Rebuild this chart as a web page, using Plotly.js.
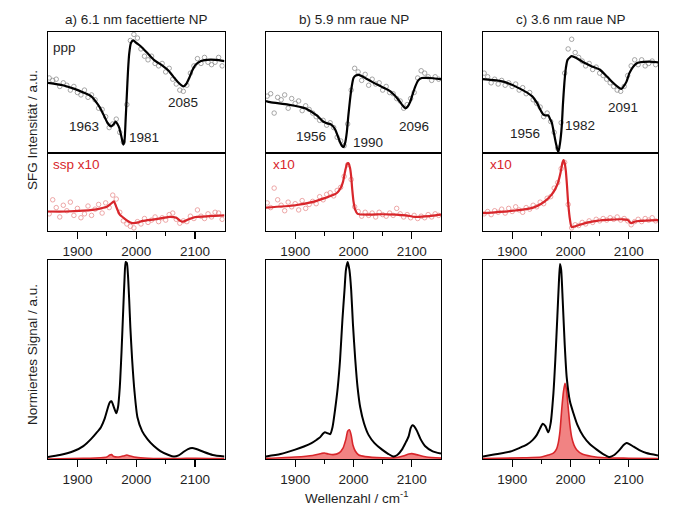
<!DOCTYPE html>
<html>
<head>
<meta charset="utf-8">
<script src="https://cdn.plot.ly/plotly-3.0.1.min.js"></script>
<style>html,body{margin:0;padding:0;background:#fff;}#chart{width:676px;height:524px;}</style>
</head>
<body>
<div id="chart"></div>
<script>
// ---------- DATA ----------
const panelTitles = ["a) 6.1 nm facettierte NP", "b) 5.9 nm raue NP", "c) 3.6 nm raue NP"];
const tickVals = [1900, 2000, 2100];
const tickText = ["1900", "2000", "2100"];
const minorTickVals = [1950, 2050];

// measured-point wavenumbers (shared by all SFG panels)
const ptsX = [1852,1858,1864,1870,1876,1882,1888,1894,1900,1906,1912,1918,1924,1930,1936,1942,1948,1954,1960,1966,1972,1978,1984,1990,1996,2002,2008,2014,2020,2026,2032,2038,2044,2050,2056,2062,2068,2074,2080,2086,2092,2098,2104,2110,2116,2122,2128,2134,2140,2146];

// panel a — ppp
const aPppPts = [0.62,0.60,0.61,0.55,0.58,0.56,0.52,0.55,0.50,0.48,0.52,0.46,0.48,0.44,0.37,0.36,0.30,0.21,0.24,0.28,0.17,0.09,0.40,0.93,0.98,0.95,0.86,0.80,0.77,0.80,0.74,0.72,0.74,0.67,0.70,0.61,0.57,0.52,0.51,0.56,0.66,0.72,0.78,0.74,0.79,0.75,0.73,0.75,0.79,0.72];
const aPppFitX = [1850,1875,1895,1910,1923,1935,1940,1946,1951,1957,1962,1965,1968,1971,1975,1978,1980,1982,1984,1986,1988,1991,1995,2000,2008,2020,2030,2045,2055,2065,2072,2080,2085,2090,2095,2101,2110,2120,2135,2150];
const aPppFitY = [0.58,0.56,0.53,0.50,0.47,0.40,0.36,0.30,0.25,0.22,0.24,0.26,0.24,0.21,0.13,0.07,0.10,0.28,0.48,0.68,0.82,0.91,0.93,0.91,0.88,0.82,0.77,0.72,0.68,0.62,0.58,0.55,0.57,0.62,0.68,0.73,0.76,0.77,0.77,0.76];
// panel a — ssp x10
const aSspPts = [0.22,0.40,0.30,0.18,0.33,0.26,0.37,0.20,0.29,0.17,0.22,0.32,0.20,0.28,0.34,0.23,0.36,0.30,0.46,0.41,0.24,0.13,0.09,0.06,0.04,0.12,0.09,0.16,0.11,0.14,0.18,0.12,0.17,0.14,0.21,0.23,0.15,0.10,0.13,0.12,0.19,0.16,0.27,0.19,0.16,0.22,0.18,0.24,0.23,0.15];
const aSspFitX = [1850,1880,1910,1925,1940,1950,1957,1962,1966,1972,1980,1990,1996,2003,2011,2031,2057,2068,2075,2079,2089,2101,2125,2150];
const aSspFitY = [0.25,0.25,0.26,0.27,0.29,0.31,0.35,0.38,0.31,0.21,0.16,0.11,0.10,0.11,0.13,0.15,0.18,0.17,0.13,0.12,0.15,0.18,0.19,0.20];
// panel a — normalised spectra
const aPppNormX = [1850,1870,1894,1910,1923,1932,1940,1946,1951,1955,1958,1962,1966,1969,1972,1975,1978,1980,1982,1984,1986,1988,1990,1993,1997,2002,2010,2019,2030,2041,2055,2064,2072,2080,2088,2095,2102,2115,2130,2150];
const aPppNormY = [0.01,0.02,0.04,0.065,0.10,0.13,0.16,0.20,0.25,0.285,0.29,0.26,0.23,0.26,0.36,0.54,0.76,0.90,0.99,0.985,0.92,0.80,0.66,0.50,0.34,0.21,0.14,0.10,0.065,0.04,0.02,0.012,0.018,0.035,0.05,0.055,0.05,0.035,0.02,0.012];
const aSspNormX = [1850,1910,1940,1950,1955,1958,1962,1970,1978,1984,1990,2000,2020,2070,2100,2150];
const aSspNormY = [0,0.003,0.006,0.01,0.02,0.022,0.012,0.01,0.015,0.02,0.015,0.008,0.004,0.002,0.004,0.002];

// panel b — ppp
const bPppPts = [0.47,0.49,0.33,0.46,0.44,0.48,0.37,0.45,0.41,0.43,0.35,0.39,0.36,0.33,0.30,0.27,0.27,0.23,0.25,0.21,0.13,0.10,0.06,0.24,0.52,0.70,0.67,0.60,0.65,0.56,0.61,0.57,0.58,0.52,0.55,0.50,0.49,0.45,0.43,0.37,0.40,0.45,0.50,0.62,0.68,0.66,0.63,0.60,0.63,0.61];
const bPppFitX = [1850,1857,1888,1917,1937,1948,1955,1960,1965,1969,1973,1977,1980,1983,1986,1988.5,1991,1994,1997,2000,2004,2009,2020,2031,2045,2060,2070,2077,2083,2089,2093,2097,2101,2106,2111,2117,2130,2150];
const bPppFitY = [0.43,0.42,0.40,0.37,0.31,0.26,0.245,0.24,0.22,0.19,0.14,0.09,0.06,0.05,0.09,0.17,0.30,0.44,0.55,0.62,0.64,0.645,0.62,0.59,0.555,0.52,0.48,0.44,0.40,0.37,0.385,0.42,0.48,0.55,0.60,0.62,0.62,0.61];
// panel b — ssp x10
const bSspPts = [0.36,0.30,0.55,0.40,0.33,0.26,0.37,0.31,0.35,0.27,0.39,0.29,0.34,0.38,0.35,0.44,0.40,0.47,0.49,0.45,0.52,0.56,0.70,0.85,0.66,0.31,0.25,0.19,0.24,0.20,0.23,0.18,0.24,0.21,0.19,0.23,0.20,0.29,0.22,0.18,0.21,0.17,0.20,0.16,0.19,0.17,0.21,0.18,0.22,0.20];
const bSspFitX = [1850,1900,1934,1954,1965,1972,1978,1982,1986,1989,1991,1994,1996,1998,2000,2003,2007,2026,2050,2072,2090,2106,2130,2150];
const bSspFitY = [0.30,0.33,0.38,0.43,0.46,0.49,0.55,0.63,0.78,0.86,0.87,0.81,0.70,0.52,0.38,0.27,0.22,0.21,0.215,0.21,0.20,0.18,0.19,0.21];
// panel b — normalised spectra
const bPppNormX = [1850,1875,1900,1915,1928,1937,1943,1948,1951,1955,1960,1964,1968.5,1973,1977,1981,1984.6,1987,1990,1993,1996,1999,2003,2007,2011.5,2018,2026,2036,2049,2060,2068,2075,2083,2089,2094.5,2098,2101,2104,2109,2115,2123,2135,2150];
const bPppNormY = [0.013,0.025,0.047,0.063,0.08,0.097,0.11,0.128,0.134,0.13,0.125,0.16,0.25,0.36,0.50,0.70,0.85,0.95,0.99,0.95,0.85,0.68,0.50,0.36,0.26,0.18,0.12,0.08,0.047,0.025,0.013,0.02,0.047,0.08,0.114,0.155,0.17,0.165,0.14,0.10,0.064,0.04,0.027];
const bSspNormX = [1850,1900,1930,1945,1950,1957,1965,1975,1982,1987,1990,1993,1996,1999,2003,2009,2020,2050,2070,2085,2095,2100,2108,2125,2150];
const bSspNormY = [0.003,0.01,0.018,0.028,0.03,0.025,0.022,0.03,0.055,0.10,0.14,0.147,0.12,0.07,0.04,0.02,0.012,0.006,0.006,0.015,0.025,0.027,0.022,0.01,0.005];

// panel c — ppp
const cPppPts = [0.66,0.63,0.58,0.61,0.57,0.60,0.56,0.58,0.55,0.57,0.52,0.54,0.49,0.50,0.44,0.41,0.38,0.30,0.33,0.26,0.17,0.04,0.25,0.66,0.86,0.94,0.83,0.79,0.76,0.72,0.74,0.69,0.71,0.66,0.64,0.61,0.58,0.55,0.52,0.51,0.55,0.64,0.72,0.77,0.73,0.77,0.72,0.74,0.76,0.73];
const cPppFitX = [1850,1885,1914,1934,1943,1948,1953,1957,1962,1965,1968,1971,1975,1979,1982,1985,1987,1989.5,1992,1995,2002,2010,2022,2035,2050,2063,2073,2080,2087,2091,2096,2101,2107,2113,2119,2135,2150];
const cPppFitY = [0.61,0.59,0.53,0.47,0.41,0.36,0.32,0.31,0.31,0.28,0.25,0.18,0.08,0.005,0.08,0.22,0.40,0.58,0.70,0.77,0.80,0.785,0.75,0.72,0.69,0.63,0.58,0.55,0.53,0.55,0.59,0.66,0.71,0.74,0.75,0.755,0.75];
// panel c — ssp x10
const cSspPts = [0.22,0.25,0.21,0.26,0.24,0.28,0.23,0.29,0.25,0.31,0.27,0.24,0.30,0.28,0.33,0.31,0.37,0.35,0.42,0.44,0.55,0.62,0.80,0.88,0.34,0.04,0.08,0.07,0.11,0.09,0.13,0.11,0.15,0.13,0.16,0.14,0.17,0.15,0.18,0.14,0.16,0.13,0.08,0.12,0.15,0.12,0.16,0.14,0.17,0.13];
const cSspFitX = [1850,1902,1936,1950,1959,1967,1974,1979,1983,1986,1988,1990,1992,1994,1996,1999,2002,2008,2016,2030,2045,2070,2090,2098,2104,2110,2119,2150];
const cSspFitY = [0.23,0.26,0.30,0.35,0.40,0.46,0.54,0.63,0.75,0.87,0.91,0.87,0.77,0.58,0.36,0.15,0.05,0.06,0.08,0.11,0.13,0.145,0.15,0.14,0.10,0.12,0.13,0.14];
// panel c — normalised spectra
const cPppNormX = [1850,1875,1897,1912,1925,1935,1942,1948,1952.5,1957,1962,1966,1970.7,1974,1977.5,1980,1982,1984,1986.6,1990,1993.5,1999,2005,2012,2022,2033,2045,2056,2067,2075,2084.5,2091,2096,2101,2107,2118,2130,2150];
const cPppNormY = [0.013,0.025,0.038,0.055,0.072,0.095,0.12,0.155,0.177,0.165,0.134,0.18,0.33,0.50,0.72,0.88,0.98,0.95,0.80,0.58,0.41,0.29,0.23,0.17,0.114,0.075,0.047,0.025,0.01,0.02,0.047,0.07,0.08,0.075,0.064,0.045,0.03,0.018];
const cSspNormX = [1850,1920,1950,1962,1970.7,1976,1979,1982,1985,1988,1990.6,1993,1996,1999,2002,2006,2010.5,2020,2035,2060,2100,2150];
const cSspNormY = [0.002,0.006,0.01,0.02,0.03,0.05,0.08,0.14,0.25,0.34,0.38,0.35,0.26,0.17,0.11,0.07,0.047,0.025,0.014,0.006,0.004,0.002];

// label texts
const peakLabels = [
  [{t:"1963",x:1912,y:0.22},{t:"1981",x:2014,y:0.13},{t:"2085",x:2080,y:0.42}],
  [{t:"1956",x:1927,y:0.14},{t:"1990",x:2024,y:0.09},{t:"2096",x:2103,y:0.22}],
  [{t:"1956",x:1922,y:0.16},{t:"1982",x:2017,y:0.23},{t:"2091",x:2090,y:0.38}]
];
const sspLabels = ["ssp x10", "x10", "x10"];

// ---------- STYLE / LAYOUT ----------
const RED = "#d8262b";
const TXT = "#1e1e1e";
const FONT = "Liberation Sans, Arial, sans-serif";
const W = 676, H = 524;
const xDom = [[48, 224.5], [266, 441], [483, 658]].map(d => [d[0] / W, d[1] / W]);
const yDomPx = [[32, 153], [153, 231], [260, 459]];
const yDom = yDomPx.map(d => [1 - d[1] / H, 1 - d[0] / H]);

const panels = [
  {ppp:[aPppPts,aPppFitX,aPppFitY], ssp:[aSspPts,aSspFitX,aSspFitY], norm:[aPppNormX,aPppNormY,aSspNormX,aSspNormY]},
  {ppp:[bPppPts,bPppFitX,bPppFitY], ssp:[bSspPts,bSspFitX,bSspFitY], norm:[bPppNormX,bPppNormY,bSspNormX,bSspNormY]},
  {ppp:[cPppPts,cPppFitX,cPppFitY], ssp:[cSspPts,cSspFitX,cSspFitY], norm:[cPppNormX,cPppNormY,cSspNormX,cSspNormY]}
];

const traces = [];
const layout = {
  width: W, height: H, autosize: false,
  margin: {l: 0, r: 0, t: 0, b: 0, pad: 0},
  paper_bgcolor: "#fff", plot_bgcolor: "#fff",
  showlegend: false,
  font: {family: FONT, size: 13.5, color: TXT},
  annotations: []
};

function axName(i) { return i === 1 ? "" : String(i); }

panels.forEach((p, pi) => {
  for (let r = 0; r < 3; r++) {
    const idx = pi * 3 + r + 1;
    const xa = "x" + axName(idx), ya = "y" + axName(idx);
    const withTicks = r > 0;
    const xax = {
      domain: xDom[pi], anchor: ya, range: [1850, 2150],
      showline: true, mirror: true, linecolor: "#000", linewidth: 1.3,
      showgrid: false, zeroline: false,
      ticks: withTicks ? "outside" : "", ticklen: 7, tickwidth: 1.2, tickcolor: "#000",
      tickmode: "array", tickvals: tickVals, ticktext: tickText,
      showticklabels: withTicks,
      tickfont: {family: FONT, size: 13.5, color: TXT}
    };
    if (withTicks) xax.minor = {ticks: "outside", tickmode: "array", tickvals: minorTickVals, ticklen: 4, tickwidth: 1.2, tickcolor: "#000", showgrid: false};
    layout["xaxis" + axName(idx)] = xax;
    layout["yaxis" + axName(idx)] = {
      domain: yDom[r], anchor: xa, range: [0, 1],
      showline: true, mirror: true, linecolor: "#000", linewidth: 1.3,
      showgrid: false, zeroline: false, ticks: "", showticklabels: false
    };
    if (r === 0) {
      traces.push({x: ptsX, y: p.ppp[0], xaxis: xa, yaxis: ya, type: "scatter", mode: "markers",
        marker: {symbol: "circle-open", size: 4.5, color: "#8f8f8f", line: {width: 0.8}}});
      traces.push({x: p.ppp[1], y: p.ppp[2], xaxis: xa, yaxis: ya, type: "scatter", mode: "lines",
        line: {color: "#000", width: 2.2, shape: "spline", smoothing: 0.6}});
      peakLabels[pi].forEach(l => layout.annotations.push({xref: xa, yref: ya, x: l.x, y: l.y, text: l.t,
        showarrow: false, xanchor: "center", yanchor: "middle", font: {family: FONT, size: 13.5, color: TXT}}));
      if (pi === 0) layout.annotations.push({xref: xa, yref: ya, x: 1855, y: 0.875, text: "ppp", showarrow: false,
        xanchor: "left", yanchor: "middle", font: {family: FONT, size: 13.5, color: TXT}});
    } else if (r === 1) {
      traces.push({x: ptsX, y: p.ssp[0], xaxis: xa, yaxis: ya, type: "scatter", mode: "markers",
        marker: {symbol: "circle-open", size: 4.5, color: "#e99292", line: {width: 0.8}}});
      traces.push({x: p.ssp[1], y: p.ssp[2], xaxis: xa, yaxis: ya, type: "scatter", mode: "lines",
        line: {color: RED, width: 2.2, shape: "spline", smoothing: 0.6}});
      layout.annotations.push({xref: xa, yref: ya, x: pi === 0 ? 1855 : 1858, y: 0.85, text: sspLabels[pi], showarrow: false,
        xanchor: "left", yanchor: "middle", font: {family: FONT, size: 13.5, color: RED}});
    } else {
      traces.push({x: p.norm[2], y: p.norm[3], xaxis: xa, yaxis: ya, type: "scatter", mode: "lines",
        fill: "tozeroy", fillcolor: "rgba(236,90,90,0.75)",
        line: {color: RED, width: 1.6, shape: "spline", smoothing: 0.6}});
      traces.push({x: p.norm[0], y: p.norm[1], xaxis: xa, yaxis: ya, type: "scatter", mode: "lines",
        line: {color: "#000", width: 2, shape: "spline", smoothing: 0.6}});
    }
  }
  layout.annotations.push({xref: "paper", yref: "paper", x: (xDom[pi][0] + xDom[pi][1]) / 2, y: 1 - 20 / H,
    text: panelTitles[pi], showarrow: false, xanchor: "center", yanchor: "middle",
    font: {family: FONT, size: 13.5, color: TXT}});
});

layout.annotations.push({xref: "paper", yref: "paper", x: 32 / W, y: 1 - 130 / H, text: "SFG Intensität / a.u.",
  textangle: -90, showarrow: false, xanchor: "center", yanchor: "middle", font: {family: FONT, size: 13.5, color: TXT}});
layout.annotations.push({xref: "paper", yref: "paper", x: 32 / W, y: 1 - 355 / H, text: "Normiertes Signal / a.u.",
  textangle: -90, showarrow: false, xanchor: "center", yanchor: "middle", font: {family: FONT, size: 13.5, color: TXT}});
layout.annotations.push({xref: "paper", yref: "paper", x: 356 / W, y: 1 - 497 / H, text: "Wellenzahl / cm<sup>-1</sup>",
  showarrow: false, xanchor: "center", yanchor: "middle", font: {family: FONT, size: 13.5, color: TXT}});

Plotly.newPlot("chart", traces, layout, {staticPlot: true, displayModeBar: false});
</script>
</body>
</html>
